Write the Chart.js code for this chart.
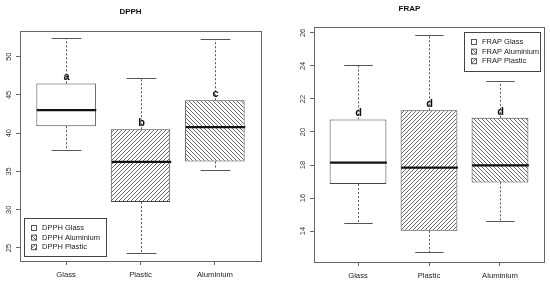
<!DOCTYPE html>
<html>
<head>
<meta charset="utf-8">
<script src="https://cdn.jsdelivr.net/npm/chart.js@4.4.0/dist/chart.umd.min.js"></script>
<style>
  body { margin: 0; background: #fff; }
  .wrap { display: flex; width: 550px; height: 285px; }
  canvas { display: block; }
</style>
</head>
<body>
<div class="wrap">
  <canvas id="dpphChart" width="275" height="285"></canvas>
  <canvas id="frapChart" width="275" height="285"></canvas>
</div>
<script>
// categories
const categories = ['Glass', 'Plastic', 'Aluminium'];

// DPPH box stats
const dpphMin    = [37.8, 24.4, 35.25];
const dpphQ1     = [40.9, 31.0, 36.3];
const dpphMedian = [43.0, 36.25, 40.8];
const dpphQ3     = [46.5, 40.5, 44.3];
const dpphMax    = [52.4, 47.25, 52.3];
const dpphLetters = ['a', 'b', 'c'];
const dpphTicks  = [25, 30, 35, 40, 45, 50];
const dpphLegend = ['DPPH Glass', 'DPPH Aluminium', 'DPPH Plastic'];

// FRAP box stats
const frapMin    = [14.5, 12.73, 14.64];
const frapQ1     = [16.85, 14.02, 16.95];
const frapMedian = [18.14, 17.84, 17.98];
const frapQ3     = [20.76, 21.31, 20.86];
const frapMax    = [24.06, 25.85, 23.07];
const frapLetters = ['d', 'd', 'd'];
const frapTicks  = [14, 16, 18, 20, 22, 24, 26];
const frapLegend = ['FRAP Glass', 'FRAP Aluminium', 'FRAP Plastic'];

const FONT = '"Liberation Sans", Arial, sans-serif';

function hatch(dir) {
  const s = 4;
  const c = document.createElement('canvas');
  c.width = s; c.height = s;
  const g = c.getContext('2d');
  g.fillStyle = '#fff';
  g.fillRect(0, 0, s, s);
  g.strokeStyle = '#555';
  g.lineWidth = 0.9;
  g.beginPath();
  if (dir > 0) {
    g.moveTo(-1, s + 1); g.lineTo(s + 1, -1);
    g.moveTo(-1, 1); g.lineTo(1, -1);
    g.moveTo(s - 1, s + 1); g.lineTo(s + 1, s - 1);
  } else {
    g.moveTo(-1, -1); g.lineTo(s + 1, s + 1);
    g.moveTo(-1, s - 1); g.lineTo(1, s + 1);
    g.moveTo(s - 1, -1); g.lineTo(s + 1, 1);
  }
  g.stroke();
  return g.createPattern(c, 'repeat');
}
const hatchUp = hatch(1);     // plastic  ////
const hatchDown = hatch(-1);  // aluminium \\\\
const boxFills = ['#ffffff', hatchUp, hatchDown];
const legendFills = ['#ffffff', hatchDown, hatchUp];

// whiskers, medians, letters, frame and legend
const boxExtras = {
  id: 'boxExtras',
  afterDatasetsDraw(chart, args, o) {
    const ctx = chart.ctx;
    const xs = chart.scales.x, ys = chart.scales.y;
    const half = xs.getPixelForValue(1.4) - xs.getPixelForValue(1);
    ctx.save();
    categories.forEach((c, i) => {
      const x = Math.round(xs.getPixelForValue(i + 1)) + 0.5;
      const yMin = ys.getPixelForValue(o.min[i]);
      const yQ1 = ys.getPixelForValue(o.q1[i]);
      const yQ3 = ys.getPixelForValue(o.q3[i]);
      const yMax = ys.getPixelForValue(o.max[i]);
      const yMed = ys.getPixelForValue(o.median[i]);
      ctx.strokeStyle = '#555';
      ctx.lineWidth = 1;
      ctx.setLineDash([2, 2]);
      ctx.beginPath();
      ctx.moveTo(x, yQ3); ctx.lineTo(x, yMax);
      ctx.moveTo(x, yQ1); ctx.lineTo(x, yMin);
      ctx.stroke();
      ctx.setLineDash([]);
      ctx.beginPath();
      ctx.moveTo(x - half / 2, Math.round(yMax) + 0.5); ctx.lineTo(x + half / 2, Math.round(yMax) + 0.5);
      ctx.moveTo(x - half / 2, Math.round(yMin) + 0.5); ctx.lineTo(x + half / 2, Math.round(yMin) + 0.5);
      ctx.stroke();
      ctx.strokeStyle = '#111';
      ctx.lineWidth = 2.3;
      ctx.beginPath();
      ctx.moveTo(x - half, yMed); ctx.lineTo(x + half, yMed);
      ctx.stroke();
      ctx.fillStyle = '#111';
      ctx.font = 'bold 11px ' + FONT;
      ctx.textAlign = 'center';
      ctx.textBaseline = 'alphabetic';
      ctx.fillText(o.letters[i], x, yQ3 - 3);
    });
    // frame
    const a = chart.chartArea;
    ctx.strokeStyle = '#666';
    ctx.lineWidth = 1;
    ctx.strokeRect(Math.round(a.left) + 0.5, Math.round(a.top) + 0.5,
      Math.round(a.right - a.left), Math.round(a.bottom - a.top));
    // legend
    const L = o.legendBox;
    ctx.fillStyle = '#fff';
    ctx.fillRect(L.x, L.y, L.w, L.h);
    ctx.strokeStyle = '#444';
    ctx.strokeRect(L.x + 0.5, L.y + 0.5, L.w, L.h);
    ctx.font = '7.5px ' + FONT;
    ctx.textAlign = 'left';
    ctx.textBaseline = 'middle';
    o.legend.forEach((t, i) => {
      const cy = L.y + 10 + i * 9.6;
      ctx.fillStyle = legendFills[i];
      ctx.fillRect(L.x + 7, cy - 2.5, 5, 5);
      ctx.strokeStyle = '#555';
      ctx.strokeRect(L.x + 7.5, cy - 2.5, 5, 5);
      ctx.fillStyle = '#222';
      ctx.fillText(t, L.x + 18, cy);
    });
    ctx.restore();
  }
};

function makeChart(id, title, titlePad, q1, q3, extras, yMin, yMax, yTicks, yWidth, xHeight, rightPad) {
  return new Chart(document.getElementById(id), {
    type: 'bar',
    data: {
      datasets: [{
        data: categories.map((c, i) => ({ x: i + 1, y: [q1[i], q3[i]] })),
        backgroundColor: boxFills,
        borderColor: '#444',
        borderWidth: 1,
        borderSkipped: false,
        barPercentage: 0.8,
        categoryPercentage: 1
      }]
    },
    options: {
      responsive: false,
      animation: false,
      devicePixelRatio: 1,
      layout: { padding: { left: 0, right: rightPad, top: 0, bottom: 0 } },
      plugins: {
        legend: { display: false },
        tooltip: { enabled: false },
        title: {
          display: true, text: title, color: '#111',
          font: { family: FONT, size: 8, weight: 'bold' },
          padding: titlePad
        },
        boxExtras: extras
      },
      scales: {
        x: {
          type: 'linear', min: 0.38, max: 3.62, offset: false,
          afterBuildTicks: s => { s.ticks = categories.map((c, i) => ({ value: i + 1 })); },
          afterFit: s => { s.height = xHeight; s.paddingLeft = 0; s.paddingRight = 0; },
          grid: { offset: false, drawOnChartArea: false, drawTicks: true, tickLength: 4, color: '#666' },
          border: { display: false },
          ticks: {
            autoSkip: false, maxRotation: 0, padding: 5, color: '#222',
            font: { family: FONT, size: 7.7 },
            callback: v => categories[v - 1]
          }
        },
        y: {
          min: yMin, max: yMax,
          afterBuildTicks: s => { s.ticks = yTicks.map(v => ({ value: v })); },
          afterFit: s => { s.width = yWidth; s.paddingTop = 0; s.paddingBottom = 0; },
          grid: { drawOnChartArea: false, drawTicks: true, tickLength: 4, color: '#666' },
          border: { display: false },
          ticks: {
            minRotation: 90, maxRotation: 90, crossAlign: 'center', padding: 3,
            color: '#333', font: { family: FONT, size: 7.5 }
          }
        }
      }
    },
    plugins: [boxExtras]
  });
}

makeChart('dpphChart', 'DPPH', { top: 7, bottom: 14 }, dpphQ1, dpphQ3, {
  min: dpphMin, q1: dpphQ1, median: dpphMedian, q3: dpphQ3, max: dpphMax,
  letters: dpphLetters, legend: dpphLegend,
  legendBox: { x: 24, y: 218, w: 82, h: 38 }
}, 23.3, 53.4, dpphTicks, 20, 24, 14);

makeChart('frapChart', 'FRAP', { top: 4, bottom: 13 }, frapQ1, frapQ3, {
  min: frapMin, q1: frapQ1, median: frapMedian, q3: frapQ3, max: frapMax,
  letters: frapLetters, legend: frapLegend,
  legendBox: { x: 189, y: 32, w: 76, h: 39 }
}, 12.13, 26.38, frapTicks, 39, 23, 6);
</script>
</body>
</html>
